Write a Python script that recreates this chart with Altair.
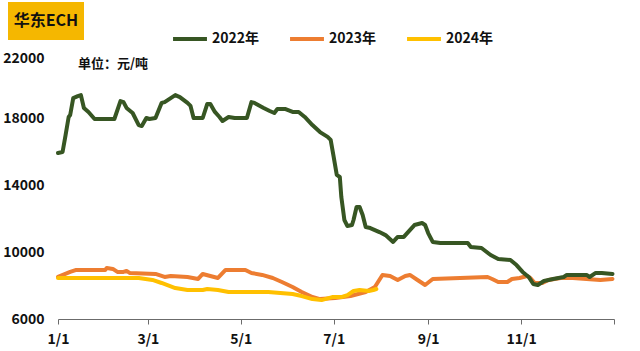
import altair as alt
import pandas as pd

# ---- data (day 0 = 1/1; prices in 元/吨) ----
d2022 = [0, 3, 5, 7, 8, 10, 13, 15, 17, 20, 24, 37, 41, 43, 45, 49, 53, 55, 58, 60,
         64, 68, 70, 74, 77, 80, 85, 87, 89, 95, 98, 100, 103, 106, 108, 112, 116, 124, 127, 129,
         135, 139, 142, 144, 149, 154, 158, 162, 167, 172, 177, 179, 181, 183, 185, 186, 188, 190, 193, 194,
         196, 198, 200, 202, 205, 211, 215, 220, 223, 227, 231, 234, 239, 241, 243, 246, 251, 255, 269, 271,
         278, 284, 289, 297, 301, 305, 309, 312, 315, 319, 325, 332, 334, 347, 349, 353, 357, 364]
v2022 = [15910, 15970, 16990, 18060, 18180, 19190, 19310, 19370, 18600, 18360, 17940, 17940, 19010, 18950, 18600, 18300, 17580, 17520, 18000, 17940,
         18000, 18900, 18950, 19190, 19370, 19250, 18900, 18720, 18000, 18000, 18840, 18840, 18360, 18060, 17820, 18060, 18000, 18000, 18950, 18900,
         18600, 18420, 18300, 18540, 18540, 18360, 18360, 18060, 17580, 17160, 16870, 16690, 15670, 14600, 14480, 13280, 11910, 11550, 11610, 11910,
         12690, 12690, 12210, 11490, 11430, 11190, 11010, 10600, 10900, 10900, 11310, 11610, 11730, 11610, 11130, 10600, 10540, 10540, 10540, 10300,
         10240, 9820, 9580, 9520, 9220, 8810, 8510, 8090, 8030, 8270, 8390, 8510, 8630, 8630, 8510, 8750, 8750, 8690]

d2023 = [0, 8, 12, 31, 32, 36, 39, 43, 45, 47, 64, 70, 74, 85, 92, 95, 100, 105, 110, 123,
         127, 134, 141, 147, 154, 160, 167, 172, 182, 192, 202, 208, 213, 218, 223, 228, 231, 236, 241, 246,
         282, 285, 289, 295, 298, 303, 308, 310, 313, 318, 322, 330, 338, 347, 356, 364]
v2023 = [8510, 8810, 8930, 8930, 9050, 8990, 8810, 8810, 8870, 8750, 8690, 8510, 8570, 8510, 8390, 8690, 8570, 8450, 8930, 8930,
         8750, 8630, 8450, 8210, 7910, 7610, 7310, 7190, 7250, 7370, 7610, 7910, 8630, 8570, 8330, 8570, 8630, 8330, 8030, 8390,
         8510, 8390, 8210, 8210, 8390, 8450, 8570, 8450, 8150, 8150, 8330, 8450, 8450, 8390, 8330, 8390]

d2024 = [0, 5, 53, 62, 68, 77, 85, 95, 98, 105, 112, 138, 154, 160, 167, 173, 180, 186, 190, 194,
         198, 204, 207, 209]
v2024 = [8450, 8450, 8450, 8330, 8150, 7850, 7730, 7730, 7790, 7730, 7610, 7610, 7490, 7370, 7190, 7130, 7310, 7310, 7430, 7670,
         7730, 7670, 7730, 7790]

series_names = ["2022年", "2023年", "2024年"]
series_colors = ["#375623", "#ED7D31", "#FFC000"]
draw_order = ["2023年", "2024年", "2022年"]

tick_days = [0, 59, 120, 181, 243, 304, 365]
tick_labels = ["1/1", "3/1", "5/1", "7/1", "9/1", "11/1", ""]
y_ticks = [6000, 10000, 14000, 18000, 22000]

title_text = "华东ECH"
unit_text = "单位：元/吨"

FONT = "Noto Sans CJK SC"

# ---- build table ----
frames = []
for name, d, v in zip(series_names, [d2022, d2023, d2024], [v2022, v2023, v2024]):
    frames.append(pd.DataFrame({"day": d, "price": v, "series": name}))
df = pd.concat(frames, ignore_index=True)

label_expr = ""
for dv, lab in zip(tick_days, tick_labels):
    label_expr += f"datum.value == {dv} ? '{lab}' : "
label_expr += "''"

x_enc = alt.X(
    "day:Q",
    scale=alt.Scale(domain=[0, 365], nice=False, zero=False),
    axis=alt.Axis(
        values=tick_days, labelExpr=label_expr, title=None, grid=False,
        domainColor="#6b6b6b", domainWidth=1.2, tickColor="#6b6b6b", tickSize=5,
        labelFont=FONT, labelFontSize=14, labelFontWeight="bold", labelColor="#111111",
        labelPadding=8, labelFlush=False,
    ),
)
y_enc = alt.Y(
    "price:Q",
    scale=alt.Scale(domain=[6000, 22000], nice=False, zero=False),
    axis=alt.Axis(
        values=y_ticks, title=None, grid=False, domain=False, ticks=False, format="d",
        labelFont=FONT, labelFontSize=14, labelFontWeight="bold", labelColor="#111111",
        labelPadding=14,
        labelBaseline={"condition": {"test": "datum.value == 22000", "value": "top"}, "value": "middle"},
    ),
)
color_enc = alt.Color(
    "series:N",
    scale=alt.Scale(domain=series_names, range=series_colors),
    legend=alt.Legend(
        title=None, orient="none", legendX=113, legendY=-31, direction="horizontal",
        symbolType="stroke", symbolSize=1150, symbolStrokeWidth=4,
        labelFont=FONT, labelFontSize=14, labelFontWeight="bold", labelColor="#111111",
        labelOffset=3, columnPadding=22,
    ),
)

layers = []
for name in draw_order:
    layers.append(
        alt.Chart(df)
        .transform_filter(alt.datum.series == name)
        .mark_line(strokeWidth=4, strokeJoin="round", strokeCap="round")
        .encode(x=x_enc, y=y_enc, color=color_enc)
    )

txt_df = pd.DataFrame({"title": [title_text], "unit": [unit_text]})
title_box = alt.Chart(txt_df).mark_rect(color="#F5B700").encode(
    x=alt.value(-50), x2=alt.value(26), y=alt.value(-49), y2=alt.value(-11)
)
title_txt = alt.Chart(txt_df).mark_text(
    font=FONT, fontSize=16, fontWeight="bold", color="#111111", align="center", baseline="middle"
).encode(x=alt.value(-12), y=alt.value(-30), text="title:N")
unit_txt = alt.Chart(txt_df).mark_text(
    font=FONT, fontSize=13, fontWeight="bold", color="#111111", align="left", baseline="middle"
).encode(x=alt.value(20), y=alt.value(13), text="unit:N")

chart = (
    alt.layer(*layers, title_box, title_txt, unit_txt)
    .properties(
        width=556, height=268,
        autosize=alt.AutoSizeParams(type="none"),
        padding={"left": 58, "top": 51, "right": 26, "bottom": 32},
        background="white",
    )
    .configure_view(stroke=None)
)

chart.save("out.html", embed_options={"renderer": "svg", "actions": False})
